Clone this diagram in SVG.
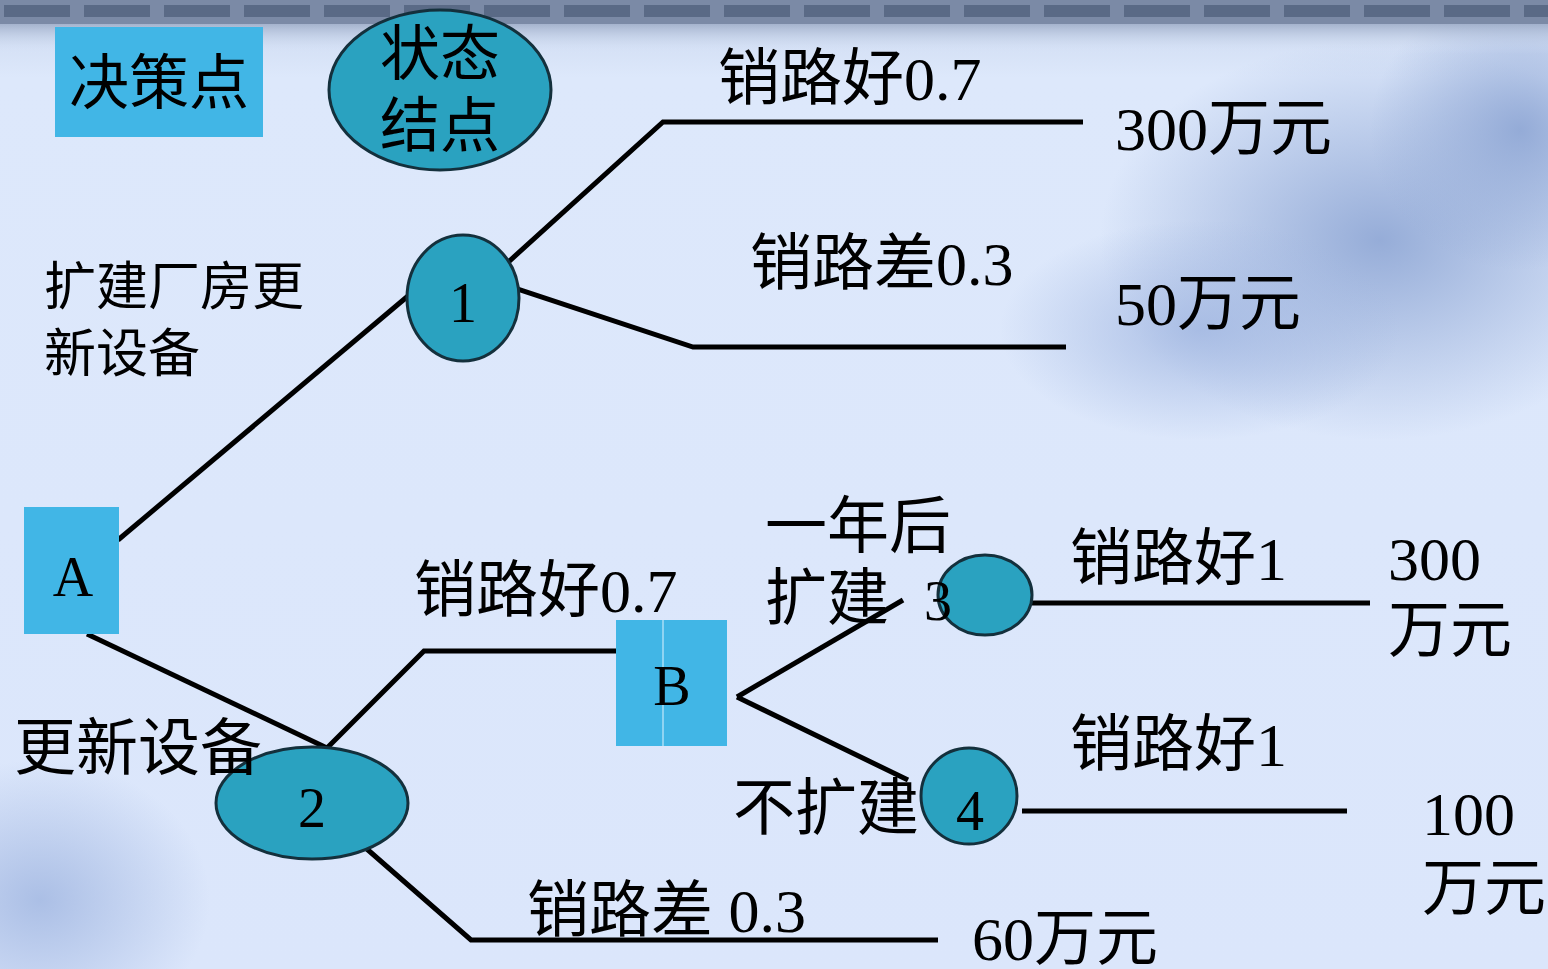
<svg xmlns="http://www.w3.org/2000/svg" width="1548" height="969" viewBox="0 0 1548 969">
<defs>
<style>
.t{font-family:"Liberation Serif","Noto Sans CJK SC",serif;fill:#000;}
.l{stroke:#000;stroke-width:5;fill:none;stroke-linejoin:miter;}
.sq{fill:#41b6e6;}
.el{fill:#2aa2c0;stroke:#14303c;stroke-width:3;}
</style>
<linearGradient id="bg" x1="0" y1="0" x2="0" y2="1">
<stop offset="0" stop-color="#c9d6ee"/>
<stop offset="0.08" stop-color="#dde8fb"/>
<stop offset="1" stop-color="#dbe6fb"/>
</linearGradient>
<radialGradient id="cloud1" cx="0.5" cy="0.5" r="0.5">
<stop offset="0" stop-color="#8ea6d4" stop-opacity="0.9"/>
<stop offset="1" stop-color="#8ea6d4" stop-opacity="0"/>
</radialGradient>
<radialGradient id="cloud2" cx="0.5" cy="0.5" r="0.5">
<stop offset="0" stop-color="#9fb5e0" stop-opacity="0.8"/>
<stop offset="1" stop-color="#9fb5e0" stop-opacity="0"/>
</radialGradient>
<pattern id="dash" x="0" y="0" width="80" height="24" patternUnits="userSpaceOnUse">
<rect width="80" height="24" fill="#7b8aa6"/>
<rect x="4" y="5" width="66" height="12" fill="#5a6a86"/>
</pattern>
<linearGradient id="fade" x1="0" y1="0" x2="0" y2="1">
<stop offset="0" stop-color="#9aa9c4" stop-opacity="0.8"/>
<stop offset="1" stop-color="#dde8fb" stop-opacity="0"/>
</linearGradient>
</defs>
<g id="background">
<rect width="1548" height="969" fill="url(#bg)"/>
<ellipse cx="1380" cy="240" rx="280" ry="200" fill="url(#cloud1)"/>
<ellipse cx="1200" cy="330" rx="200" ry="110" fill="url(#cloud2)"/>
<ellipse cx="1520" cy="130" rx="150" ry="140" fill="url(#cloud1)"/>
<ellipse cx="40" cy="900" rx="170" ry="140" fill="url(#cloud2)"/>
<rect width="1548" height="24" fill="url(#dash)"/>
<rect y="24" width="1548" height="30" fill="url(#fade)"/>
</g>
<g id="connectors">
<polyline class="l" points="118,540 408,296"/>
<polyline class="l" points="505,265 663,122 1083,122"/>
<polyline class="l" points="505,285 693,347 1066,347"/>
<polyline class="l" points="87,634 327,748"/>
<polyline class="l" points="327,748 424,651 616,651"/>
<polyline class="l" points="360,843 471,940 938,940"/>
<polyline class="l" points="737,697 903,600"/>
<polyline class="l" points="737,697 908,780"/>
<polyline class="l" points="1032,603 1370,603"/>
<polyline class="l" points="1022,811 1347,811"/>
</g>
<g id="legend-decision">
<rect class="sq" x="55" y="27" width="208" height="110"/>
<text class="t" x="159" y="104" font-size="60" text-anchor="middle">决策点</text>
</g>
<g id="legend-state">
<ellipse class="el" cx="440" cy="90" rx="111" ry="80"/>
<text class="t" x="440" y="75" font-size="60" text-anchor="middle">状态</text>
<text class="t" x="440" y="147" font-size="60" text-anchor="middle">结点</text>
</g>
<g id="node-A">
<rect class="sq" x="24" y="507" width="95" height="127"/>
<text class="t" x="73" y="596" font-size="56" text-anchor="middle">A</text>
</g>
<g id="node-1">
<ellipse class="el" cx="463" cy="298" rx="56" ry="63"/>
<text class="t" x="463" y="322" font-size="56" text-anchor="middle">1</text>
</g>
<g id="node-2">
<ellipse class="el" cx="312" cy="803" rx="96" ry="56"/>
<text class="t" x="312" y="827" font-size="56" text-anchor="middle">2</text>
</g>
<g id="node-B">
<rect class="sq" x="616" y="620" width="111" height="126"/>
<line x1="663" y1="620" x2="663" y2="746" stroke="#8fd4f2" stroke-width="2"/>
<text class="t" x="672" y="705" font-size="56" text-anchor="middle">B</text>
</g>
<g id="node-3">
<ellipse class="el" cx="985" cy="595" rx="47" ry="40"/>
<text class="t" x="938" y="620" font-size="56" text-anchor="middle">3</text>
</g>
<g id="node-4">
<ellipse class="el" cx="969" cy="796" rx="48" ry="48"/>
<text class="t" x="970" y="830" font-size="56" text-anchor="middle">4</text>
</g>
<g id="labels">
<text class="t" x="718" y="100" font-size="62">销路好0.7</text>
<text class="t" x="1115" y="150" font-size="62">300万元</text>
<text class="t" x="750" y="285" font-size="62">销路差0.3</text>
<text class="t" x="1115" y="325" font-size="62">50万元</text>
<text class="t" x="44" y="305" font-size="52">扩建厂房更</text>
<text class="t" x="44" y="372" font-size="52">新设备</text>
<text class="t" x="414" y="612" font-size="62">销路好0.7</text>
<text class="t" x="765" y="548" font-size="62">一年后</text>
<text class="t" x="765" y="620" font-size="62">扩建</text>
<text class="t" x="1070" y="580" font-size="62">销路好1</text>
<text class="t" x="1388" y="580" font-size="62">300</text>
<text class="t" x="1388" y="652" font-size="62">万元</text>
<text class="t" x="1070" y="766" font-size="62">销路好1</text>
<text class="t" x="1422" y="835" font-size="62">100</text>
<text class="t" x="1422" y="910" font-size="62">万元</text>
<text class="t" x="14" y="770" font-size="62">更新设备</text>
<text class="t" x="733" y="830" font-size="62">不扩建</text>
<text class="t" x="527" y="932" font-size="62">销路差 0.3</text>
<text class="t" x="972" y="960" font-size="62">60万元</text>
</g>
</svg>
